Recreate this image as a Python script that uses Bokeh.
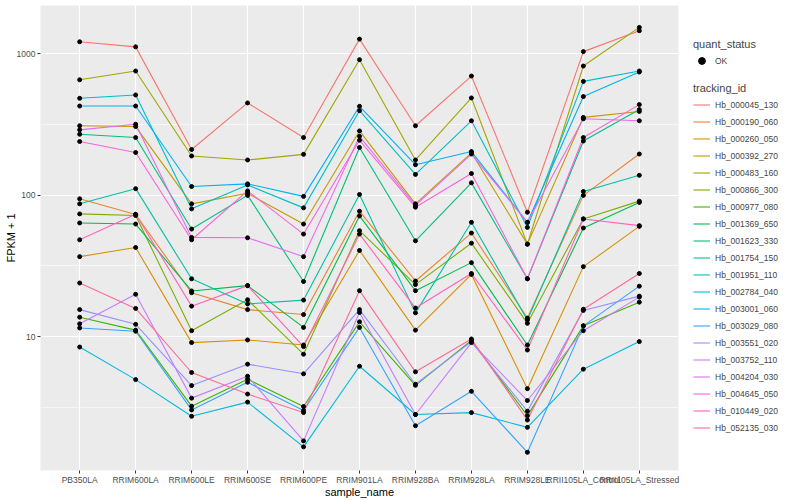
from bokeh.plotting import figure
from bokeh.layouts import row
from bokeh.models import FactorRange, Range1d, FixedTicker, Legend, LegendItem, PrintfTickFormatter
from bokeh.embed import file_html
from bokeh.resources import INLINE

samples = ["PB350LA", "RRIM600LA", "RRIM600LE", "RRIM600SE", "RRIM600PE", "RRIM901LA",
           "RRIM928BA", "RRIM928LA", "RRIM928LE", "RRII105LA_Control", "RRII105LA_Stressed"]

tracking_ids = ["Hb_000045_130", "Hb_000190_060", "Hb_000260_050", "Hb_000392_270", "Hb_000483_160",
                "Hb_000866_300", "Hb_000977_080", "Hb_001369_650", "Hb_001623_330", "Hb_001754_150",
                "Hb_001951_110", "Hb_002784_040", "Hb_003001_060", "Hb_003029_080", "Hb_003551_020",
                "Hb_003752_110", "Hb_004204_030", "Hb_004645_050", "Hb_010449_020", "Hb_052135_030"]

hb_000045_130 = [1212, 1116, 210, 448, 255, 1266, 309, 694, 75.6, 1033, 1451]
hb_000190_060 = [94.1, 72.9, 20.4, 15.5, 14.3, 76.9, 24.7, 53.9, 13.5, 99.5, 195]
hb_000260_050 = [36.7, 42.6, 9.06, 9.46, 8.71, 40.6, 11.1, 27.5, 4.28, 31.2, 60.1]
hb_000392_270 = [309, 305, 86.7, 103, 62.4, 284, 86.7, 199, 45.0, 354, 390]
hb_000483_160 = [653, 753, 189, 177, 194, 906, 177, 486, 45.0, 817, 1532]
hb_000866_300 = [73.6, 71.7, 11.0, 18.2, 7.5, 56.0, 23.3, 45.7, 12.4, 67.8, 90.6]
hb_000977_080 = [13.7, 11.1, 3.22, 4.99, 3.20, 12.7, 4.52, 9.37, 2.76, 11.9, 17.5]
hb_001369_650 = [63.5, 62.4, 21.0, 22.9, 11.6, 71.2, 21.1, 33.3, 8.71, 58.5, 88.7]
hb_001623_330 = [269, 255, 57.5, 99.5, 24.5, 217, 47.5, 122, 25.6, 241, 402]
hb_001754_150 = [86.7, 111, 25.6, 17.0, 18.1, 101, 14.7, 64.2, 13.1, 106, 138]
hb_001951_110 = [483, 510, 79.9, 118, 81.2, 395, 140, 335, 59.1, 636, 753]
hb_002784_040 = [8.43, 4.96, 2.73, 3.44, 1.66, 6.17, 2.81, 2.90, 2.28, 5.88, 9.21]
hb_003001_060 = [426, 426, 115, 120, 97.9, 424, 164, 203, 64.2, 497, 741]
hb_003029_080 = [11.5, 10.9, 3.03, 4.75, 3.00, 11.6, 2.34, 4.10, 1.52, 11.9, 22.7]
hb_003551_020 = [15.5, 12.2, 4.50, 6.38, 5.45, 15.5, 4.60, 9.21, 2.97, 15.3, 19.3]
hb_003752_110 = [12.3, 19.9, 3.67, 5.24, 1.83, 14.8, 2.81, 9.06, 3.53, 11.0, 19.0]
hb_004204_030 = [289, 317, 50.2, 49.9, 36.7, 260, 84.5, 195, 64.2, 346, 335]
hb_004645_050 = [239, 200, 48.3, 107, 53.0, 244, 82.1, 142, 25.6, 255, 436]
hb_010449_020 = [48.3, 73.2, 16.4, 22.9, 8.49, 53.0, 15.9, 27.9, 8.03, 67.8, 60.8]
hb_052135_030 = [23.9, 15.8, 5.57, 3.92, 2.90, 21.1, 5.63, 9.61, 2.57, 15.6, 27.9]

series = [hb_000045_130, hb_000190_060, hb_000260_050, hb_000392_270, hb_000483_160,
          hb_000866_300, hb_000977_080, hb_001369_650, hb_001623_330, hb_001754_150,
          hb_001951_110, hb_002784_040, hb_003001_060, hb_003029_080, hb_003551_020,
          hb_003752_110, hb_004204_030, hb_004645_050, hb_010449_020, hb_052135_030]

colors = ["#F8766D", "#EA8331", "#D89000", "#C09B00", "#A3A500", "#7CAE00", "#39B600", "#00BB4E",
          "#00BF7D", "#00C1A3", "#00BFC4", "#00BAE0", "#00B0F6", "#35A2FF", "#9590FF", "#C77CFF",
          "#E76BF3", "#FA62DB", "#FF62BC", "#FF6A98"]

FONT = "Liberation Sans"
H = 500

p = figure(frame_width=638, height=H,
           x_range=FactorRange(factors=samples, range_padding=0.2, range_padding_units="absolute"),
           y_range=Range1d(1.13, 2188), y_axis_type="log",
           output_backend="svg", toolbar_location=None,
           min_border_left=40, min_border_right=9, min_border_top=5, min_border_bottom=20)

p.background_fill_color = "#EBEBEB"
p.border_fill_color = "white"
p.outline_line_color = None

p.yaxis.ticker = FixedTicker(ticks=[10, 100, 1000], minor_ticks=[3.1623, 31.623, 316.23])
p.yaxis.formatter = PrintfTickFormatter(format="%d")

p.xgrid.grid_line_color = "white"
p.xgrid.grid_line_width = 1.2
p.ygrid.grid_line_color = "white"
p.ygrid.grid_line_width = 1.2
p.ygrid.minor_grid_line_color = "white"
p.ygrid.minor_grid_line_width = 0.6

for ax in p.axis:
    ax.axis_line_color = None
    ax.major_tick_line_color = "#333333"
    ax.major_tick_in = 0
    ax.major_tick_out = 3
    ax.minor_tick_line_color = None
    ax.major_label_text_color = "#4D4D4D"
    ax.major_label_text_font = FONT
    ax.major_label_text_font_size = "8.5px"
    ax.major_label_standoff = 1
    ax.axis_label_text_font = FONT
    ax.axis_label_text_font_size = "11px"
    ax.axis_label_text_font_style = "normal"
    ax.axis_label_text_color = "black"

p.yaxis.axis_label_standoff = -3
p.xaxis.axis_label_standoff = -2
p.yaxis.axis_label = "FPKM + 1"
p.xaxis.axis_label = "sample_name"

for vals, col in zip(series, colors):
    p.line(x=samples, y=vals, line_color=col, line_width=1.1)

all_x = [s for vals in series for s in samples]
all_y = [v for vals in series for v in vals]
p.scatter(x=all_x, y=all_y, size=4, color="black")

# legend panel
lg = figure(width=108, height=H, x_range=Range1d(0, 1), y_range=Range1d(0, 1),
            x_axis_location=None, y_axis_location=None,
            output_backend="svg", toolbar_location=None, min_border=0)
lg.grid.visible = False
lg.outline_line_color = None
lg.background_fill_color = "white"
lg.border_fill_color = "white"

line_items = []
for tid, col in zip(tracking_ids, colors):
    r = lg.line(x=[-2, -1], y=[-2, -2], line_color=col, line_width=1.1)
    line_items.append(LegendItem(label=tid, renderers=[r]))
ok_r = lg.scatter(x=[-2], y=[-2], size=4, color="black")


def style_legend(leg):
    leg.title_text_font = FONT
    leg.title_text_font_size = "11px"
    leg.title_text_font_style = "normal"
    leg.label_text_font = FONT
    leg.label_text_font_size = "8.5px"
    leg.glyph_width = 17
    leg.glyph_height = 17
    leg.label_height = 17
    leg.spacing = 0
    leg.padding = 0
    leg.margin = 0
    leg.label_standoff = 5
    leg.title_standoff = 2
    leg.border_line_color = None
    leg.background_fill_alpha = 0


leg1 = Legend(items=[LegendItem(label="OK", renderers=[ok_r])], title="quant_status", location=(6, 401))
style_legend(leg1)
leg2 = Legend(items=line_items, title="tracking_id", location=(6, 34))
style_legend(leg2)
lg.add_layout(leg1)
lg.add_layout(leg2)

layout = row(p, lg)
open("out.html", "w").write(file_html(layout, INLINE))
